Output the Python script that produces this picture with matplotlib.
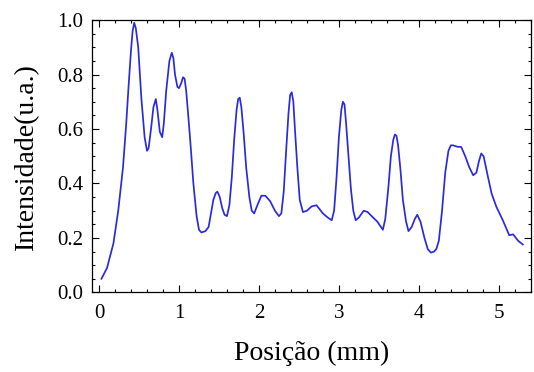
import matplotlib
matplotlib.use("Agg")
import matplotlib.pyplot as plt
from matplotlib.ticker import MultipleLocator, FormatStrFormatter

# Profile (position in mm, normalized intensity)
position = [0.03, 0.10, 0.18, 0.24, 0.30, 0.34, 0.37, 0.40, 0.42, 0.44, 0.46, 0.49,
            0.53, 0.57, 0.60, 0.62, 0.65, 0.68, 0.71, 0.73, 0.76, 0.79, 0.81, 0.84,
            0.88, 0.91, 0.93, 0.95, 0.98, 1.00, 1.03, 1.05, 1.07, 1.09, 1.11, 1.14,
            1.18, 1.22, 1.25, 1.28, 1.33, 1.37, 1.40, 1.43, 1.46, 1.48, 1.51, 1.54,
            1.57, 1.60, 1.63, 1.66, 1.69, 1.72, 1.74, 1.76, 1.78, 1.81, 1.84, 1.88,
            1.91, 1.94, 1.98, 2.03, 2.08, 2.14, 2.20, 2.25, 2.28, 2.31, 2.34, 2.37,
            2.39, 2.41, 2.43, 2.45, 2.48, 2.51, 2.55, 2.60, 2.66, 2.72, 2.80, 2.86,
            2.91, 2.94, 2.97, 3.00, 3.03, 3.05, 3.07, 3.09, 3.12, 3.15, 3.18, 3.21,
            3.25, 3.31, 3.36, 3.41, 3.48, 3.55, 3.58, 3.62, 3.65, 3.68, 3.70, 3.72,
            3.74, 3.77, 3.80, 3.84, 3.87, 3.91, 3.95, 3.98, 4.02, 4.07, 4.11, 4.15,
            4.19, 4.22, 4.25, 4.29, 4.33, 4.37, 4.40, 4.43, 4.48, 4.53, 4.58, 4.63,
            4.68, 4.72, 4.75, 4.78, 4.81, 4.86, 4.91, 4.97, 5.05, 5.13, 5.18, 5.24,
            5.30]
intensity = [0.05, 0.09, 0.18, 0.30, 0.46, 0.62, 0.76, 0.89, 0.96, 0.99, 0.97, 0.90,
             0.71, 0.57, 0.52, 0.53, 0.60, 0.68, 0.71, 0.67, 0.59, 0.57, 0.62, 0.74,
             0.85, 0.88, 0.86, 0.80, 0.755, 0.75, 0.77, 0.79, 0.785, 0.74, 0.67, 0.56,
             0.40, 0.28, 0.23, 0.22, 0.225, 0.24, 0.29, 0.34, 0.365, 0.37, 0.35, 0.31,
             0.285, 0.28, 0.32, 0.42, 0.56, 0.67, 0.71, 0.715, 0.68, 0.58, 0.46, 0.35,
             0.30, 0.29, 0.32, 0.355, 0.355, 0.335, 0.30, 0.28, 0.29, 0.37, 0.52, 0.66,
             0.725, 0.735, 0.70, 0.60, 0.46, 0.34, 0.295, 0.30, 0.316, 0.32, 0.29, 0.275,
             0.265, 0.30, 0.42, 0.57, 0.67, 0.70, 0.69, 0.62, 0.50, 0.38, 0.30, 0.265,
             0.275, 0.30, 0.295, 0.28, 0.26, 0.23, 0.27, 0.39, 0.50, 0.56, 0.58, 0.575,
             0.54, 0.45, 0.34, 0.26, 0.225, 0.24, 0.27, 0.285, 0.26, 0.20, 0.16, 0.146,
             0.15, 0.16, 0.19, 0.30, 0.44, 0.52, 0.54, 0.54, 0.535, 0.534, 0.50, 0.46,
             0.43, 0.44, 0.48, 0.51, 0.50, 0.43, 0.363, 0.314, 0.265, 0.21, 0.213, 0.19,
             0.176]

plt.rcParams["font.family"] = ["Liberation Serif", "DejaVu Serif"]

fig = plt.figure(figsize=(5.34, 3.72), dpi=100)
ax = fig.add_axes([0.172, 0.214, 0.822, 0.732])

ax.plot(position, intensity, color="#2a2ae0", linewidth=1.25)

ax.set_xlim(-0.09, 5.4)
ax.set_ylim(0.0, 1.0)
ax.xaxis.set_major_locator(MultipleLocator(1))
ax.xaxis.set_minor_locator(MultipleLocator(0.2))
ax.yaxis.set_major_locator(MultipleLocator(0.2))
ax.yaxis.set_minor_locator(MultipleLocator(0.05))
ax.yaxis.set_major_formatter(FormatStrFormatter("%.1f"))

ax.tick_params(which="both", direction="in", top=True, right=True, labelsize=15, width=0.8)
ax.tick_params(which="major", length=5, pad=6)
ax.tick_params(axis="x", which="major", pad=8)
ax.tick_params(which="minor", length=2.5)
for s in ax.spines.values():
    s.set_linewidth(0.9)

ax.set_xlabel("Posição (mm)", fontsize=20, labelpad=13)
ax.set_ylabel("Intensidade(u.a.)", fontsize=20, labelpad=13)

fig.savefig("out.png", dpi=100)
